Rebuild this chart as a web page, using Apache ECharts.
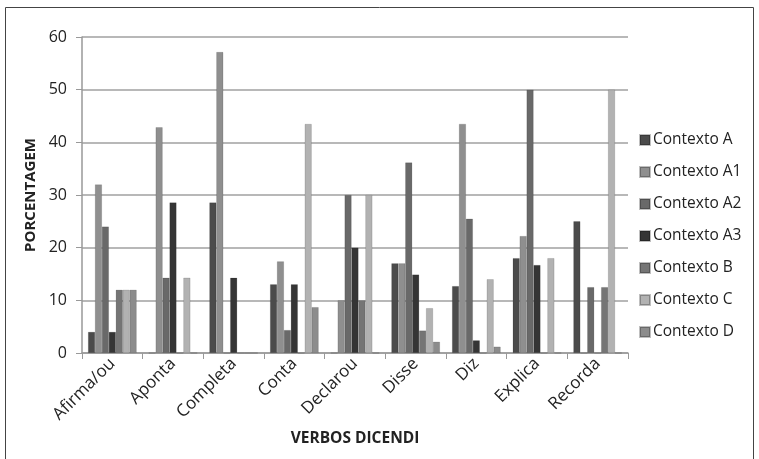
<!DOCTYPE html>
<html>
<head>
<meta charset="utf-8">
<script src="https://cdn.jsdelivr.net/npm/echarts@6/dist/echarts.min.js"></script>
<style>
  html, body { margin: 0; padding: 0; background: #fff; }
  #chart { width: 759px; height: 459px; }
</style>
</head>
<body>
<div id="chart"></div>
<script>
const categories = ['Afirma/ou', 'Aponta', 'Completa', 'Conta', 'Declarou', 'Disse', 'Diz', 'Explica', 'Recorda'];
const seriesNames = ['Contexto A', 'Contexto A1', 'Contexto A2', 'Contexto A3', 'Contexto B', 'Contexto C', 'Contexto D'];
const contextoA  = [4, 0, 28.57, 13.04, 0, 17.02, 12.7, 18, 25];
const contextoA1 = [32, 42.86, 57.14, 17.39, 10, 17.02, 43.5, 22.2, 0];
const contextoA2 = [24, 14.29, 0, 4.35, 30, 36.17, 25.5, 50, 12.5];
const contextoA3 = [4, 28.57, 14.29, 13.04, 20, 14.89, 2.4, 16.7, 0];
const contextoB  = [12, 0, 0, 0, 10, 4.26, 0, 0, 12.5];
const contextoC  = [12, 14.29, 0, 43.48, 30, 8.51, 14.0, 18, 50];
const contextoD  = [12, 0, 0, 8.7, 0, 2.13, 1.2, 0, 0];
const yTicks = [0, 10, 20, 30, 40, 50, 60];

const seriesData = [contextoA, contextoA1, contextoA2, contextoA3, contextoB, contextoC, contextoD];
const colors = ['#4b4b4b', '#8f8f8f', '#696969', '#353535', '#757575', '#b2b2b2', '#8c8c8c'];
const FONT = 'Open Sans';

const chart = echarts.init(document.getElementById('chart'));
chart.setOption({
  animation: false,
  textStyle: { fontFamily: FONT },
  graphic: [
    { type: 'rect', shape: { x: 5.5, y: 7.5, width: 748, height: 460 },
      style: { fill: 'none', stroke: '#444', lineWidth: 1 }, silent: true }
  ],
  grid: { left: 82, right: 131, top: 37, bottom: 106, containLabel: false },
  legend: {
    orient: 'vertical',
    left: 634,
    top: 127,
    itemWidth: 10,
    itemHeight: 10,
    itemGap: 16,
    icon: 'rect',
    data: seriesNames,
    textStyle: { fontFamily: FONT, fontSize: 15.5, color: '#222', padding: [0, 0, 0, -2] }
  },
  xAxis: {
    type: 'category',
    data: categories,
    name: 'VERBOS DICENDI',
    nameLocation: 'middle',
    nameGap: 78,
    nameTextStyle: { fontFamily: FONT, fontSize: 15.5, fontWeight: 'bold', color: '#222' },
    axisLine: { lineStyle: { color: '#999', width: 1.5 } },
    axisTick: { show: true, alignWithLabel: false, length: 6, lineStyle: { color: '#999' } },
    axisLabel: { rotate: 45, fontFamily: FONT, fontSize: 17, color: '#222', margin: 8, interval: 0 }
  },
  yAxis: {
    type: 'value',
    min: 0, max: 60, interval: 10,
    name: 'PORCENTAGEM',
    nameLocation: 'middle',
    nameGap: 39,
    nameRotate: 90,
    nameTextStyle: { fontFamily: FONT, fontSize: 15, fontWeight: 'bold', color: '#222' },
    axisLine: { show: true, lineStyle: { color: '#999', width: 1.5 } },
    axisTick: { show: true, length: 6, lineStyle: { color: '#999' } },
    axisLabel: { fontFamily: FONT, fontSize: 16, color: '#222', margin: 15,
      formatter: v => yTicks.includes(v) ? String(v) : '' },
    splitLine: { lineStyle: { color: '#a0a0a0', width: 1.5 } }
  },
  series: seriesNames.map((n, i) => ({
    name: n,
    type: 'bar',
    data: seriesData[i],
    barGap: '0%',
    barCategoryGap: '20%',
    itemStyle: { color: colors[i], borderColor: 'rgba(0,0,0,0.25)', borderWidth: 0.5 }
  }))
});
</script>
</body>
</html>
